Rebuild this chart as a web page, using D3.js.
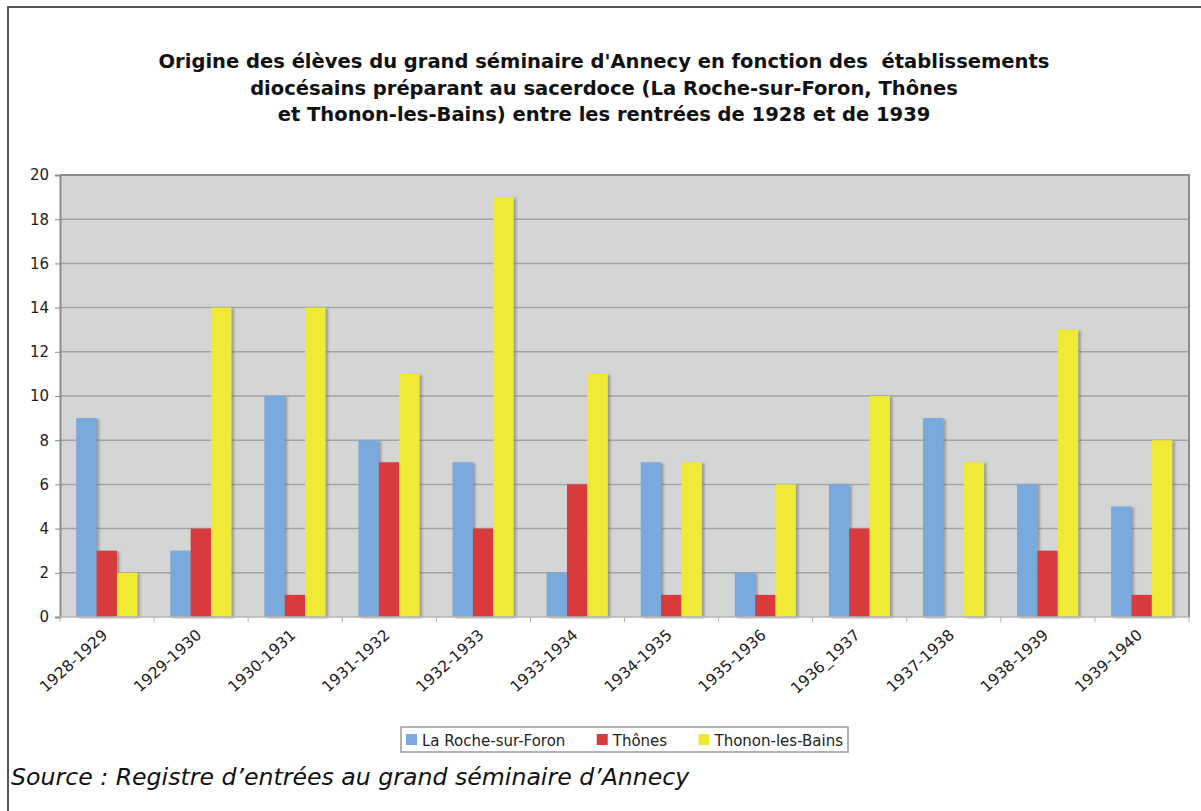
<!DOCTYPE html>
<html><head><meta charset="utf-8">
<script src="https://cdn.jsdelivr.net/npm/d3@7"></script>
<style>
html,body{margin:0;padding:0;background:#fff;}
svg{display:block;}
</style></head>
<body>
<svg id="chart" width="1201" height="811"></svg>
<script>
const categories = ["1928-1929","1929-1930","1930-1931","1931-1932","1932-1933","1933-1934","1934-1935","1935-1936","1936_1937","1937-1938","1938-1939","1939-1940"];
const seriesNames = ["La Roche-sur-Foron","Thônes","Thonon-les-Bains"];
const laRoche = [9,3,10,8,7,2,7,2,6,9,6,5];
const thones  = [3,4,1,7,4,6,1,1,4,0,3,1];
const thonon  = [2,14,14,11,19,11,7,6,10,7,13,8];
const yTicks = [0,2,4,6,8,10,12,14,16,18,20];
const titleLines = ["Origine des élèves du grand séminaire d'Annecy en fonction des  établissements",
  "diocésains préparant au sacerdoce (La Roche-sur-Foron, Thônes",
  "et Thonon-les-Bains) entre les rentrées de 1928 et de 1939"];
const sourceText = "Source : Registre d’entrées au grand séminaire d’Annecy";
const colors = ["#7aa9dd","#d93a3c","#eeea34"];

const seriesValues = [laRoche, thones, thonon];
const svg = d3.select("#chart");
const defs = svg.append("defs");
const f = defs.append("filter").attr("id","sh").attr("x","-20%").attr("y","-5%").attr("width","150%").attr("height","110%");
f.append("feDropShadow").attr("dx",2.5).attr("dy",1).attr("stdDeviation",1).attr("flood-color","#707070").attr("flood-opacity",0.6);

// outer frame (top & left)
svg.append("line").attr("x1",8).attr("x2",1201).attr("y1",7).attr("y2",7).attr("stroke","#555").attr("stroke-width",2);
svg.append("line").attr("x1",8).attr("x2",8).attr("y1",6).attr("y2",811).attr("stroke","#555").attr("stroke-width",2);

const L=60,R=1189,T=175,B=617;
const x0 = d3.scaleBand().domain(categories).range([L,R]).padding(0);
const x1 = d3.scaleBand().domain(seriesNames).range([x0.bandwidth()*0.172, x0.bandwidth()*0.822]).padding(0);
const y = d3.scaleLinear().domain([0,20]).range([B,T]);

svg.append("rect").attr("x",L).attr("y",T).attr("width",R-L).attr("height",B-T).attr("fill","#d4d6d6");
svg.append("g").selectAll("line").data(yTicks.filter(d=>d>0&&d<20)).join("line")
  .attr("x1",L).attr("x2",R).attr("y1",d=>y(d)).attr("y2",d=>y(d)).attr("stroke","#a2a2a2").attr("stroke-width",1.5);
svg.append("path").attr("d",`M${L},${T}H${R}V${B}`).attr("fill","none").attr("stroke","#8c8c8c").attr("stroke-width",2);

// bars
const g = svg.append("g");
categories.forEach((c,i)=>{
  seriesNames.forEach((s,j)=>{
    const v = seriesValues[j][i];
    if(v<=0) return;
    g.append("rect").attr("x",x0(c)+x1(s)).attr("y",y(v)).attr("width",x1.bandwidth()).attr("height",y(0)-y(v))
      .attr("fill",colors[j]).attr("filter","url(#sh)");
  });
});

// y axis
const yAxis = d3.axisLeft(y).tickValues(yTicks).tickSize(5).tickPadding(6);
const ya = svg.append("g").attr("transform",`translate(${L},0)`).call(yAxis);
ya.select(".domain").attr("stroke","#8c8c8c").attr("stroke-width",2);
ya.selectAll(".tick line").attr("stroke","#8c8c8c");
ya.selectAll("text").attr("font-family","DejaVu Sans").attr("font-size",15).attr("fill","#222");

// x axis
const xa = svg.append("g").attr("transform",`translate(0,${B})`);
xa.append("line").attr("x1",L).attr("x2",R).attr("y1",0).attr("y2",0).attr("stroke","#b5b5b5").attr("stroke-width",1.5);
xa.selectAll(".tk").data(d3.range(categories.length+1)).join("line")
  .attr("x1",i=>L+i*x0.step()).attr("x2",i=>L+i*x0.step()).attr("y1",0).attr("y2",5).attr("stroke","#b5b5b5");
xa.selectAll("text").data(categories).join("text")
  .attr("transform",d=>`translate(${x0(d)+x0.bandwidth()/2+1.5},${19.5}) rotate(-42)`)
  .attr("text-anchor","end").attr("font-family","DejaVu Sans").attr("font-size",15.5).attr("fill","#222").text(d=>d);

// title
const titleY=[68,94.5,121];
const t0 = svg.append("text").attr("font-family","DejaVu Sans").attr("font-weight","bold").attr("font-size",100)
  .style("white-space","pre").text(titleLines[0]);
const titleFs = 100*892/t0.node().getComputedTextLength();
t0.remove();
titleLines.forEach((t,i)=>{
  svg.append("text").attr("x",604).attr("y",titleY[i]).attr("text-anchor","middle")
    .attr("font-family","DejaVu Sans").attr("font-weight","bold").attr("font-size",titleFs).attr("fill","#111")
    .style("white-space","pre").text(t);
});

// legend
const lg = svg.append("g");
const boxX=401, boxW=447, sq=11, sqGap=5;
lg.append("rect").attr("x",boxX).attr("y",727).attr("width",boxW).attr("height",25).attr("fill","#fff").attr("stroke","#9a9a9a").attr("stroke-width",1.5);
const lt = seriesNames.map((s,j)=>lg.append("text").attr("y",745.5).attr("font-family","DejaVu Sans").attr("font-size",15).attr("fill","#222").text(s));
const tw = lt.map(t=>t.node().getComputedTextLength());
const pad=5;
const free = boxW - 2*pad - d3.sum(tw) - 3*(sq+sqGap);
const between = free/2;
let cx = boxX+pad;
seriesNames.forEach((s,j)=>{
  lg.append("rect").attr("x",cx).attr("y",734).attr("width",sq).attr("height",sq).attr("fill",colors[j]);
  lt[j].attr("x",cx+sq+sqGap);
  cx += sq+sqGap+tw[j]+between;
});

// source
const st = svg.append("text").attr("x",11).attr("y",785).attr("font-family","DejaVu Sans").attr("font-style","italic")
  .attr("font-size",100).attr("fill","#111").text(sourceText);
st.attr("font-size",100*679/st.node().getComputedTextLength());
</script>
</body></html>
